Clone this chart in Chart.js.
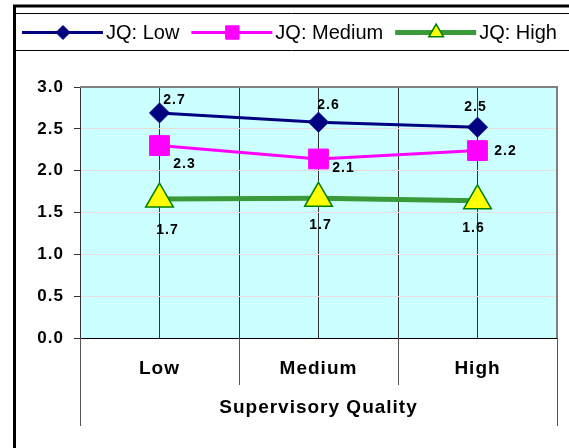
<!DOCTYPE html>
<html>
<head>
<meta charset="utf-8">
<script src="https://cdn.jsdelivr.net/npm/chart.js@4.4.0/dist/chart.umd.min.js"></script>
<style>
  html, body { margin: 0; padding: 0; background: #fff; }
  #chart { display: block; }
</style>
</head>
<body>
<canvas id="chart" width="569" height="448"></canvas>
<script>
// Job quality (JQ) means by supervisory quality level
const categories = ['Low', 'Medium', 'High'];
const seriesNames = ['JQ: Low', 'JQ: Medium', 'JQ: High'];
const jqLow = [2.69, 2.58, 2.52];
const jqMedium = [2.30, 2.14, 2.24];
const jqHigh = [1.66, 1.67, 1.64];
const yMin = 0;
const yMax = 3;
const yStep = 0.5;
const xTitle = 'Supervisory Quality';

const PLOT_BG = '#CCFFFF';
const FONT = 'Arial, "Liberation Sans", sans-serif';

// plot background, frame and gray top/right borders
const plotFrame = {
	id: 'plotFrame',
	beforeDraw(chart) {
		const { ctx, chartArea: a } = chart;
		ctx.save();
		ctx.fillStyle = PLOT_BG;
		ctx.fillRect(a.left, a.top, a.right - a.left, a.bottom - a.top);
		ctx.restore();
		// slightly wider axis lettering, reset before the datasets
		ctx.letterSpacing = '1px';
	},
	beforeDatasetsDraw(chart) {
		const { ctx, chartArea: a } = chart;
		ctx.letterSpacing = '0px';
		ctx.save();
		ctx.strokeStyle = '#808080';
		ctx.lineWidth = 2;
		ctx.beginPath();
		ctx.moveTo(a.left, a.top);
		ctx.lineTo(a.right, a.top);
		ctx.lineTo(a.right, a.bottom);
		ctx.stroke();

		// category separators below the axis, outer level reaching the title
		const x = chart.scales.x;
		const half = (x.getPixelForValue(1) - x.getPixelForValue(0)) / 2;
		ctx.strokeStyle = '#555';
		ctx.lineWidth = 1;
		ctx.beginPath();
		for (let i = 0; i <= categories.length; i++) {
			const px = Math.round(x.getPixelForValue(0) - half + i * half * 2) + 0.5;
			const outer = i === 0 || i === categories.length;
			ctx.moveTo(px, a.bottom);
			ctx.lineTo(px, a.bottom + (outer ? 88 : 47));
		}
		ctx.stroke();
		ctx.restore();
	}
};

// value labels next to each marker
const valueLabels = {
	id: 'valueLabels',
	afterDatasetsDraw(chart) {
		const ctx = chart.ctx;
		ctx.save();
		ctx.font = 'bold 14px ' + FONT;
		ctx.letterSpacing = '1px';
		ctx.fillStyle = '#000';
		ctx.textAlign = 'center';
		ctx.textBaseline = 'middle';
		chart.data.datasets.forEach((ds, i) => {
			chart.getDatasetMeta(i).data.forEach((pt, j) => {
				const [dx, dy] = ds.labelOffsets[j];
				ctx.fillText(ds.data[j].toFixed(1), pt.x + dx, pt.y + dy);
			});
		});
		ctx.restore();
	}
};

// outer chart frame and Excel-style legend with line + marker samples
const frameLegend = {
	id: 'frameLegend',
	afterDraw(chart) {
		const ctx = chart.ctx;
		const W = chart.width, H = chart.height;
		ctx.save();
		ctx.strokeStyle = '#000';
		ctx.lineWidth = 3;
		ctx.beginPath();
		ctx.moveTo(14.5, H);
		ctx.lineTo(14.5, 6);
		ctx.lineTo(W, 6);
		ctx.stroke();
		ctx.lineWidth = 1;
		ctx.beginPath();
		ctx.moveTo(14, 13.5);
		ctx.lineTo(W, 13.5);
		ctx.moveTo(14, 50.5);
		ctx.lineTo(W, 50.5);
		ctx.stroke();

		const cy = 32.5;
		let x = 22;
		ctx.font = '20px ' + FONT;
		ctx.textBaseline = 'middle';
		ctx.textAlign = 'left';
		chart.data.datasets.forEach(ds => {
			ctx.strokeStyle = ds.borderColor;
			ctx.lineWidth = ds.borderWidth;
			ctx.beginPath();
			ctx.moveTo(x, cy);
			ctx.lineTo(x + 81, cy);
			ctx.stroke();
			ctx.fillStyle = ds.pointBackgroundColor;
			ctx.strokeStyle = ds.pointBorderColor;
			ctx.lineWidth = ds.pointBorderWidth;
			Chart.helpers.drawPoint(ctx, {
				pointStyle: ds.pointStyle,
				radius: ds.legendRadius,
				borderWidth: ds.pointBorderWidth,
				rotation: 0
			}, x + 41, cy);
			ctx.fillStyle = '#000';
			ctx.fillText(ds.label, x + 84, cy + 1);
			x += 84 + ctx.measureText(ds.label).width + 12;
		});
		ctx.restore();
	}
};

new Chart(document.getElementById('chart'), {
	type: 'line',
	data: {
		labels: categories,
		datasets: [
			{
				label: seriesNames[0],
				data: jqLow,
				borderColor: '#000080',
				borderWidth: 3,
				pointStyle: 'rectRot',
				pointRadius: 10,
				legendRadius: 7,
				pointBackgroundColor: '#000080',
				pointBorderColor: '#000080',
				pointBorderWidth: 1,
				labelOffsets: [[15, -13], [10, -17], [-2, -20]]
			},
			{
				label: seriesNames[1],
				data: jqMedium,
				borderColor: '#FF00FF',
				borderWidth: 3,
				pointStyle: 'rect',
				pointRadius: 14,
				legendRadius: 9.5,
				pointBackgroundColor: '#FF00FF',
				pointBorderColor: '#FF00FF',
				pointBorderWidth: 1,
				labelOffsets: [[25, 19], [25, 9], [28, 1]]
			},
			{
				label: seriesNames[2],
				data: jqHigh,
				borderColor: '#3A9A3A',
				borderWidth: 5,
				pointStyle: 'triangle',
				pointRadius: 16,
				legendRadius: 8.5,
				pointBackgroundColor: '#FFFF00',
				pointBorderColor: '#008000',
				pointBorderWidth: 1.5,
				labelOffsets: [[8, 31], [2, 27], [-4, 27]]
			}
		]
	},
	options: {
		responsive: false,
		animation: false,
		layout: { autoPadding: false, padding: { top: 87, left: 16, right: 12, bottom: 0 } },
		plugins: {
			legend: { display: false },
			tooltip: { enabled: false }
		},
		scales: {
			x: {
				type: 'category',
				offset: true,
				grid: { offset: true, color: '#333', drawTicks: false },
				border: { display: true, color: '#000', width: 1 },
				ticks: {
					color: '#000',
					padding: 19,
					font: { family: FONT, size: 19, weight: 'bold' }
				},
				title: {
					display: true,
					text: xTitle,
					color: '#000',
					font: { family: FONT, size: 19, weight: 'bold' },
					padding: { top: 0, bottom: 29 }
				},
				afterFit(scale) {
					scale.height = 110;
					scale.paddingLeft = 0;
					scale.paddingRight = 0;
				}
			},
			// second category axis only for vertical lines through the categories
			x2: {
				type: 'category',
				labels: categories,
				offset: true,
				position: 'bottom',
				grid: { offset: false, color: '#333', drawTicks: false },
				border: { display: false },
				ticks: { display: false },
				afterFit(scale) { scale.height = 0; }
			},
			y: {
				min: yMin,
				max: yMax,
				ticks: {
					stepSize: yStep,
					color: '#000',
					padding: 10,
					font: { family: FONT, size: 17, weight: 'bold' },
					callback: v => v.toFixed(1)
				},
				grid: { color: '#EADCDC', tickColor: '#333', tickLength: 6 },
				border: { display: true, color: '#333', width: 1 },
				afterFit(scale) { scale.width = 64; }
			}
		}
	},
	plugins: [plotFrame, valueLabels, frameLegend]
});
</script>
</body>
</html>
